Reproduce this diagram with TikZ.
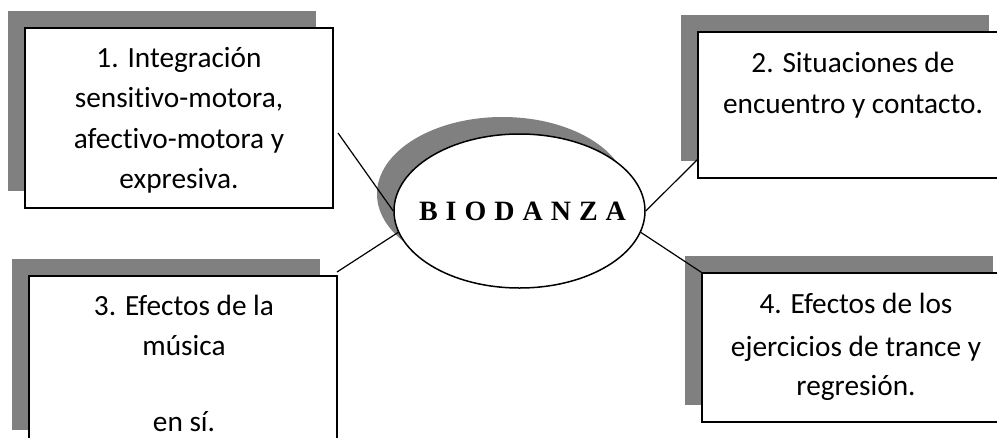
\documentclass[tikz,border=0pt]{standalone}
\usepackage{fontspec}
\setmainfont{Carlito}[Ligatures=NoCommon]
\newfontfamily\biofont{Liberation Serif}
\usetikzlibrary{shadows,shapes.geometric}
\definecolor{shadowgray}{HTML}{808080}
\newcommand{\bgap}{\hspace{8pt}}
\begin{document}
\begin{tikzpicture}[x=1pt,y=-1pt,
  myshadow/.style={drop shadow={shadow xshift=-17pt,shadow yshift=17pt,fill=shadowgray,opacity=1}},
  boxnode/.style={rectangle,draw=black,line width=1.5pt,fill=white,minimum width=308pt,inner sep=0pt,myshadow},
  txt/.style={anchor=base,inner sep=0pt,font=\fontsize{29.3}{35}\selectfont},
  link/.style={line width=1.2pt}]
\clip (0,0) rectangle (997,437);
\fill[white] (0,0) rectangle (997,437);
% boxes
\node[boxnode,minimum height=180pt] (b1) at (179,118) {};
\node[boxnode,minimum height=146pt] (b2) at (852,105) {};
\node[boxnode,minimum height=171pt] (b3) at (183,361.5) {};
\node[boxnode,minimum height=149pt] (b4) at (856,347.5) {};
% central ellipse
\node[ellipse,draw=black,line width=1.5pt,fill=white,minimum width=251pt,minimum height=154pt,inner sep=0pt,myshadow] (e) at (519.5,211) {};
\node[anchor=base,inner sep=0pt,font=\biofont\bfseries\fontsize{28}{32}\selectfont] (bt) at (522.5,220) {B\bgap I\bgap O\bgap D\bgap A\bgap N\bgap Z\bgap A};
% texts
\node[txt] (t1a) at (179,67) {1. Integración};
\node[txt] (t1b) at (179,107) {sensitivo-motora,};
\node[txt] (t1c) at (179,148) {afectivo-motora y};
\node[txt] (t1d) at (179,188) {expresiva.};
\node[txt] (t2a) at (853,72) {2. Situaciones de};
\node[txt] (t2b) at (853,113) {encuentro y contacto.};
\node[txt] (t3a) at (184,315) {3. Efectos de la};
\node[txt] (t3b) at (184,355) {música};
\node[txt] (t3c) at (184,431) {en sí.};
\node[txt] (t4a) at (856,313) {4. Efectos de los};
\node[txt] (t4b) at (856,356) {ejercicios de trance y};
\node[txt] (t4c) at (856,395) {regresión.};
% connectors
\coordinate (c1) at (338,133);
\coordinate (c2) at (698,159);
\coordinate (c3) at (337,272);
\draw[link] (c1) -- (e.west);
\draw[link] (e.east) -- (c2);
\draw[link] (c3) -- (e.190);
\draw[link] (e.-10) -- (b4.north west);
\end{tikzpicture}
\end{document}
